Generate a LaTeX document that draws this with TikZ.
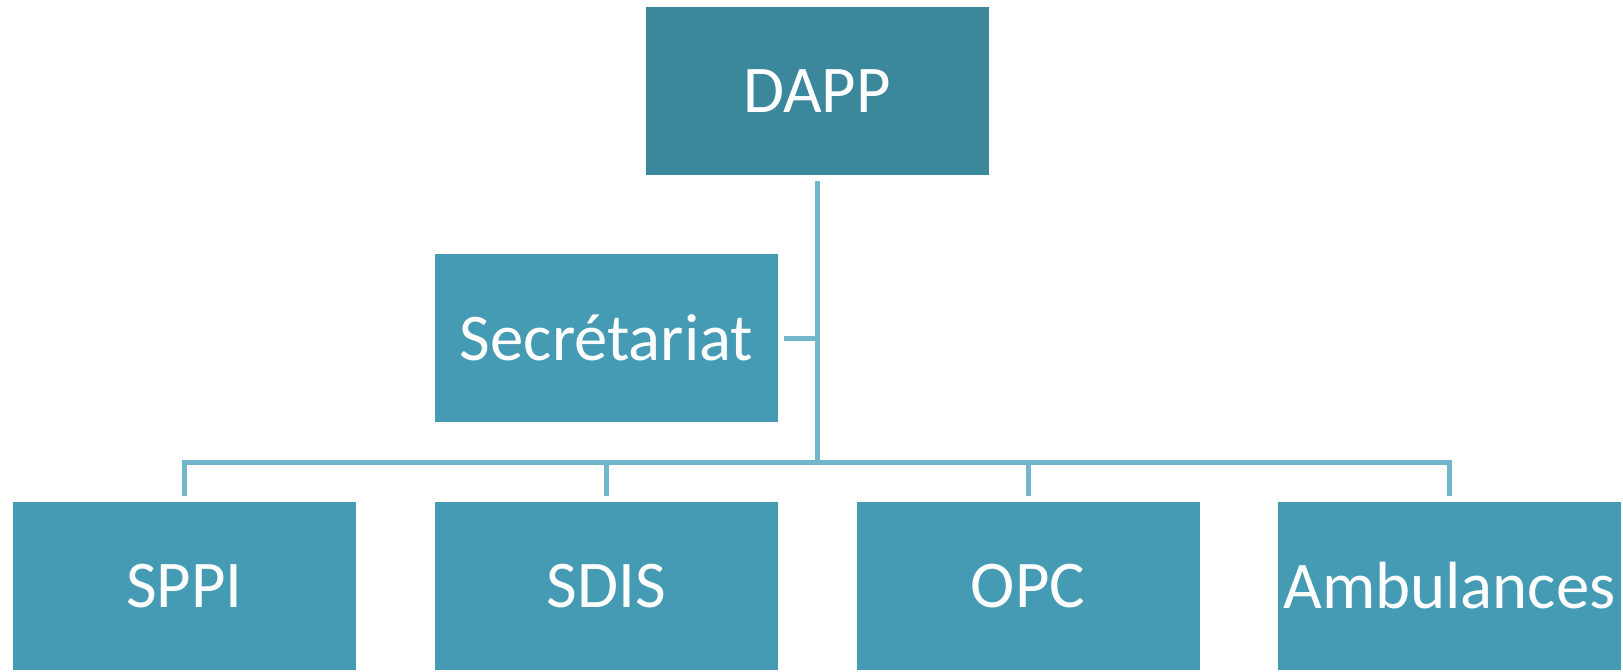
\documentclass[tikz,border=0pt]{standalone}
\usepackage{fontspec}
\setmainfont{Carlito}
\usepackage{tikz}
\usetikzlibrary{calc}

\definecolor{headfill}{HTML}{3B879C}
\definecolor{unitfill}{HTML}{459AB4}
\definecolor{linkcol}{HTML}{72B6CB}

\begin{document}
\begin{tikzpicture}[x=0.03cm,y=-0.03cm,
	unitbox/.style={fill=unitfill, draw=none, minimum width=10.29cm, minimum height=5.04cm, inner sep=0pt, outer sep=0.18cm, text=white, font=\fontsize{57}{68}\selectfont},
	headbox/.style={unitbox, fill=headfill},
	link/.style={draw=linkcol, line width=0.15cm}]

		\useasboundingbox (0, 0) rectangle (1623, 671);

		% top
		\node [headbox] (dapp) at (817, 91) {DAPP};
		\node [unitbox] (sec) at (606.5, 338) {Secrétariat};

		% bottom row
		\node [unitbox] (sppi) at (184.5, 586) {SPPI};
		\node [unitbox] (sdis) at (606.5, 586) {SDIS};
		\node [unitbox] (opc) at (1028, 586) {OPC};
		\node [unitbox] (amb) at (1449.5, 586) {Ambulances};

		\coordinate (bus) at (817, 462);

		% links
		\draw [link] (dapp.south) -- (bus);
		\draw [link] (sec.east) -- (sec.east -| dapp.south);
		\draw [link] (sppi.north) -- (sppi.north |- bus) -- (amb.north |- bus) -- (amb.north);
		\draw [link] (sdis.north |- bus) -- (sdis.north);
		\draw [link] (opc.north |- bus) -- (opc.north);

	\end{tikzpicture}
\end{document}
